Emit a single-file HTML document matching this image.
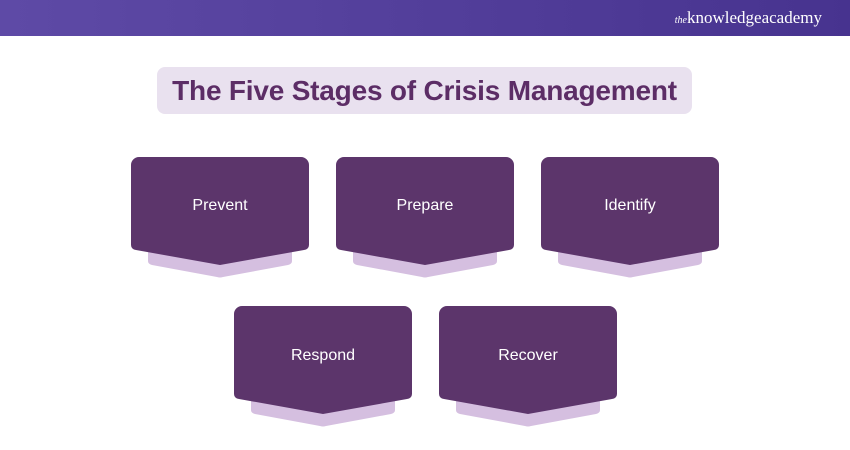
<!DOCTYPE html>
<html><head><style>
body{margin:0;width:850px;height:450px;background:#fff;position:relative;overflow:hidden;font-family:"Liberation Sans",sans-serif}
.hdr{position:absolute;left:0;top:0;width:850px;height:36px;background:linear-gradient(90deg,#5e4aa6,#47338f)}
.logo{position:absolute;right:28px;top:8px;color:#fff;font-family:"Liberation Serif",serif;font-size:17px}
.logo i{font-size:10px}
.title{position:absolute;left:157px;top:67px;width:535px;height:47px;background:#e9e1ef;border-radius:8px;color:#5c2d66;font-weight:bold;font-size:28px;text-align:center;line-height:47px;letter-spacing:-0.2px}
svg.c{position:absolute;width:178px;height:125px}
</style></head><body>
<div class="hdr"><div class="logo"><i>the</i>knowledgeacademy</div></div>
<div class="title">The Five Stages of Crisis Management</div>
<svg style="display:none"><defs><g id="card">
<path d="M21 90 H157 a4 4 0 0 1 4 4 V104 Q161 107 157 108 L92 120 Q89 121 86 120 L21 108 Q17 107 17 104 V94 a4 4 0 0 1 4 -4Z" fill="#d5bfe0"/>
<path d="M8 0 H170 a8 8 0 0 1 8 8 V88 a5 5 0 0 1 -5 5 L89 108 L5 93 a5 5 0 0 1 -5 -5 V8 a8 8 0 0 1 8 -8Z" fill="#5c356b"/>
</g></defs></svg>
<svg class="c" style="left:131px;top:157px"><use href="#card"/><text x="89" y="53" fill="#fff" font-size="16" text-anchor="middle" font-family="Liberation Sans">Prevent</text></svg>
<svg class="c" style="left:336px;top:157px"><use href="#card"/><text x="89" y="53" fill="#fff" font-size="16" text-anchor="middle" font-family="Liberation Sans">Prepare</text></svg>
<svg class="c" style="left:541px;top:157px"><use href="#card"/><text x="89" y="53" fill="#fff" font-size="16" text-anchor="middle" font-family="Liberation Sans">Identify</text></svg>
<svg class="c" style="left:234px;top:306px"><use href="#card"/><text x="89" y="54" fill="#fff" font-size="16" text-anchor="middle" font-family="Liberation Sans">Respond</text></svg>
<svg class="c" style="left:439px;top:306px"><use href="#card"/><text x="89" y="54" fill="#fff" font-size="16" text-anchor="middle" font-family="Liberation Sans">Recover</text></svg>
</body></html>
